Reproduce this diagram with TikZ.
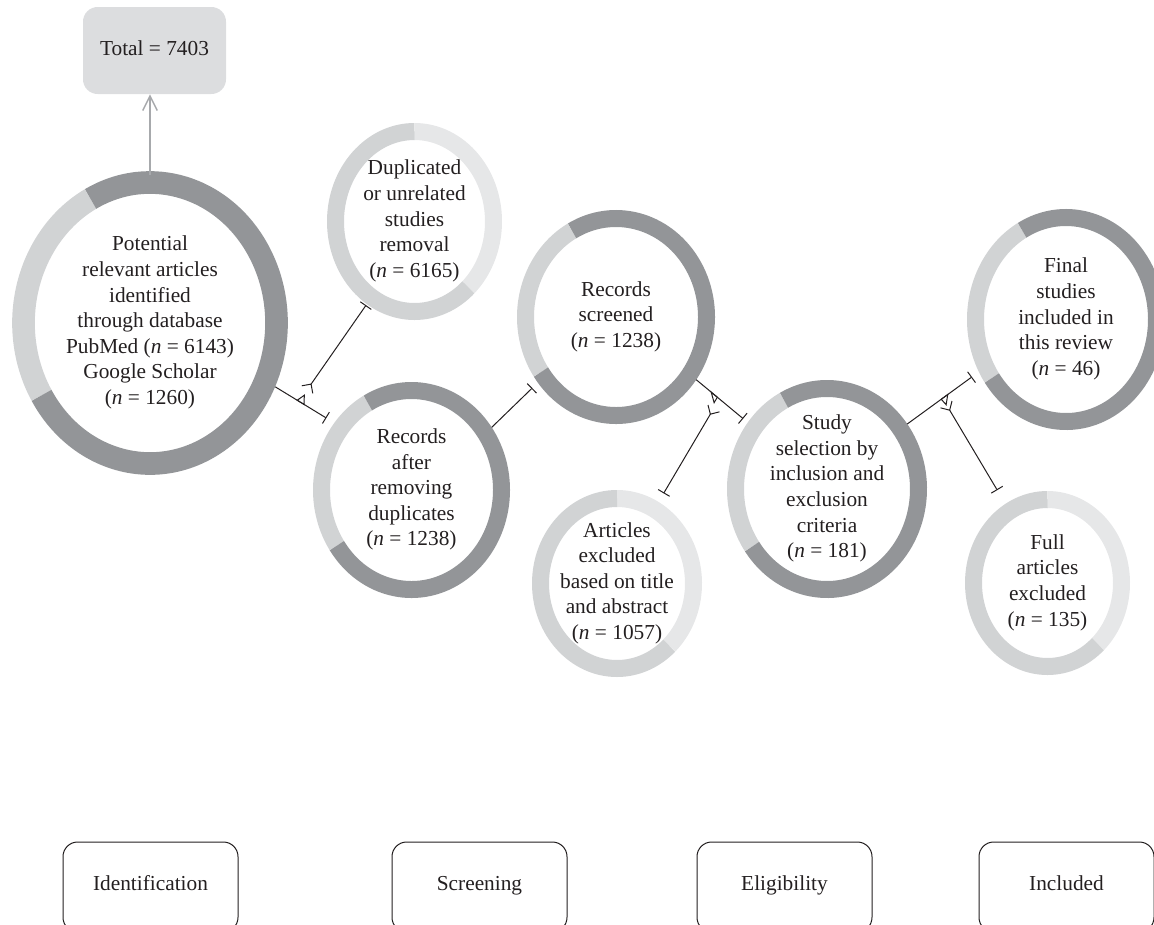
\documentclass[tikz,border=0pt]{standalone}
\usepackage{fontspec}
\setmainfont{Liberation Serif}
\usetikzlibrary{arrows.meta,shapes.geometric,calc}
\definecolor{ringdark}{HTML}{939598}
\definecolor{ringlight}{HTML}{D1D3D4}
\definecolor{ringpale}{HTML}{E6E7E8}
\definecolor{boxgray}{HTML}{DCDDDF}
\definecolor{arrowgray}{HTML}{A7A9AC}
\definecolor{ink}{HTML}{231F20}
\newcommand\ctext[1]{\makebox[0pt]{\smash{\raisebox{-4pt}{\begin{tabular}{@{}c@{}}#1\end{tabular}}}}}
% node, stroke x radius, stroke y radius, line width, angle a, angle b, colour a..b, colour rest
\newcommand\ringseg[8]{%
  \draw[line width=#4,#7] ($(#1.center)+(#5:#2 and #3)$) arc[start angle=#5,end angle=#6,x radius=#2,y radius=#3];
  \draw[line width=#4,#8] ($(#1.center)+(#6:#2 and #3)$) arc[start angle=#6,end angle=#5+360,x radius=#2,y radius=#3];}
% start, end, fraction, fork, name
\newcommand\trimark[5]{%
  \path ($(#1)!#3!(#2)$) coordinate (#5);
  \draw[conn,line join=miter] ($(#5)!3pt!(#1)$) -- ($(#5)!3pt!(#2)$) -- ($(#5)!6pt!(#4)$) -- cycle;}
\begin{document}
\begin{tikzpicture}[x=0.75pt,y=0.75pt,
  font=\fontsize{16}{19.2}\selectfont, text=ink,
  circ/.style={ellipse, inner sep=0pt, outer sep=0pt},
  conn/.style={draw=ink, line width=0.75pt},
  tbar/.style={-{Bar[width=10pt]}},
  branch/.style={{Bar[width=10pt]}-{Straight Barb[reversed,length=5pt,width=10pt]}},
  phase/.style={draw=ink, line width=0.75pt, rounded corners=11pt, minimum width=131.25pt, minimum height=67.5pt, inner sep=0pt, text height=11pt, text depth=6pt}]
\useasboundingbox (0,0) rectangle (1154,-925);
\clip (0,0) rectangle (1154,-925);

% circles
\node[circ, minimum width=207pt, minimum height=228pt] (big) at (150,-323)
  {\ctext{Potential\\relevant articles\\identified\\through database\\PubMed (\textit{n} = 6143)\\Google Scholar\\(\textit{n} = 1260)}};
\node[circ, minimum width=131.25pt, minimum height=147.75pt] (dup) at (414.5,-221.5)
  {\ctext{Duplicated\\or unrelated\\studies\\removal\\(\textit{n} = 6165)}};
\node[circ, minimum width=147.75pt, minimum height=162pt] (rad) at (411.5,-490)
  {\ctext{Records\\after\\removing\\duplicates\\(\textit{n} = 1238)}};
\node[circ, minimum width=148.5pt, minimum height=160.5pt] (rs) at (616,-317)
  {\ctext{Records\\screened\\(\textit{n} = 1238)}};
\node[circ, minimum width=127.5pt, minimum height=140.25pt] (ae) at (617,-583.5)
  {\ctext{Articles\\excluded\\based on title\\and abstract\\(\textit{n} = 1057)}};
\node[circ, minimum width=150pt, minimum height=163.5pt] (ss) at (827,-489)
  {\ctext{Study\\selection by\\inclusion and\\exclusion\\criteria\\(\textit{n} = 181)}};
\node[circ, minimum width=148.5pt, minimum height=165.75pt] (fs) at (1066,-319.5)
  {\ctext{Final\\studies\\included in\\this review\\(\textit{n} = 46)}};
\node[circ, minimum width=123.75pt, minimum height=138pt] (fa) at (1047.5,-583)
  {\ctext{Full\\articles\\excluded\\(\textit{n} = 135)}};

\ringseg{big}{126.5}{140.5}{17pt}{118}{211}{ringlight}{ringdark}
\ringseg{dup}{79}{90}{12.75pt}{-47}{90}{ringpale}{ringlight}
\ringseg{rad}{90}{99.5}{12.75pt}{119}{214}{ringlight}{ringdark}
\ringseg{rs}{90.5}{98.5}{12.75pt}{119}{214}{ringlight}{ringdark}
\ringseg{ae}{76.5}{85}{12.75pt}{-47}{90}{ringpale}{ringlight}
\ringseg{ss}{91.5}{100.5}{12.75pt}{118}{215}{ringlight}{ringdark}
\ringseg{fs}{90.5}{102}{12.75pt}{119}{215}{ringlight}{ringdark}
\ringseg{fa}{74}{83.5}{12.75pt}{-47}{90}{ringpale}{ringlight}

% total box and arrow
\node[fill=boxgray, rounded corners=11pt, minimum width=107.25pt, minimum height=65.25pt, inner sep=0pt] (total) at (154.5,-50.5) {\raisebox{3pt}{Total = 7403}};
\draw[draw=arrowgray, line width=1.1pt, shorten <=-3pt, -{Straight Barb[length=11pt,width=11pt]}] (big.north) -- (big.north |- total.south);

% fork points
\coordinate (f1) at (307,-390);
\coordinate (f3) at (714,-408);
\coordinate (f4) at (946,-404);

% connectors
\draw[conn, tbar, shorten >=7pt] (big.-27) -- (rad.139.9);
\draw[conn, branch, shorten <=1pt] (dup.240.7) -- (f1);
\trimark{big.-27}{rad.139.9}{0.43}{f1}{t1}

\draw[conn, tbar, shorten >=5.8pt] (rad.38.9) -- (rs.220.9);

\draw[conn, tbar, shorten >=4.5pt] (rs.-38) -- (ss.140.9);
\draw[conn, branch, shorten <=7.5pt] (ae.63.8) -- (f3);
\trimark{rs.-38}{ss.140.9}{0.35}{f3}{t3}

\draw[conn, tbar, shorten >=6.4pt] (ss.39.1) -- (fs.211.5);
\draw[conn, branch, shorten <=12pt] (fa.118.5) -- (f4);
\trimark{ss.39.1}{fs.211.5}{0.52}{f4}{t4}

% phase boxes
\node[phase] (p1) at (150.5,-887) {Identification};
\node[phase] (p2) at (479.5,-887) {Screening};
\node[phase] (p3) at (784.5,-887) {Eligibility};
\node[phase] (p4) at (1066.5,-887) {Included};
\end{tikzpicture}
\end{document}
